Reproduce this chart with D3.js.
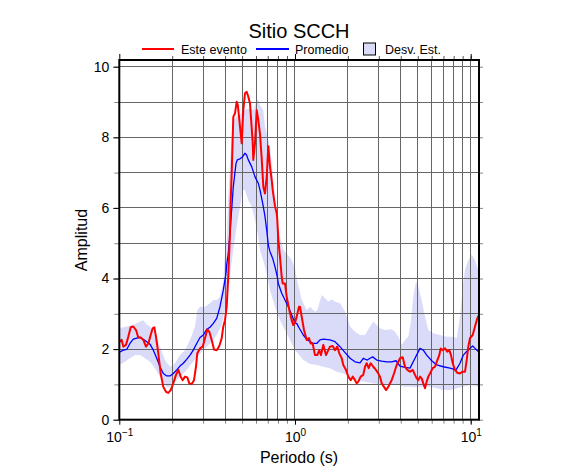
<!DOCTYPE html>
<html><head><meta charset="utf-8">
<script src="https://cdn.jsdelivr.net/npm/d3@7"></script>
<style>html,body{margin:0;padding:0;background:#fff}svg{display:block;font-family:"Liberation Sans",Arial,Helvetica,sans-serif}</style>
</head><body>
<script>
// ---- data ----
const title = "Sitio SCCH";
const seriesNames = ["Este evento", "Promedio", "Desv. Est."];
const xMajorTicks = [0.1, 1, 10];
const xMajorExp = ["\u22121", "0", "1"];
const xGridTicks = [0.2,0.3,0.4,0.5,0.6,0.7,0.8,0.9,1,2,3,4,5,6,7,8,9,10];
const yTicks = [0,1,2,3,4,5,6,7,8,9,10];
const yLabelTicks = [0,2,4,6,8,10];

const redPeriod = [0.1,0.1032,0.1054,0.1092,0.1125,0.1161,0.1201,0.1245,0.1283,0.1324,0.137,0.1419,0.1463,0.1509,0.1549,0.1582,0.1618,0.1667,0.172,0.178,0.1844,0.1901,0.1961,0.2029,0.2102,0.2167,0.2236,0.2295,0.2366,0.2438,0.2503,0.2583,0.2662,0.2732,0.2779,0.288,0.2984,0.3075,0.3169,0.3253,0.3357,0.3459,0.3584,0.3709,0.3827,0.3908,0.3996,0.4086,0.4173,0.4267,0.4305,0.4363,0.4455,0.4555,0.4658,0.473,0.4864,0.4973,0.5079,0.5193,0.531,0.5423,0.5545,0.5745,0.579,0.592,0.6053,0.6182,0.6321,0.6464,0.6601,0.6751,0.6903,0.7047,0.7206,0.7369,0.7466,0.7695,0.7867,0.793,0.8034,0.8213,0.84,0.8511,0.8771,0.897,0.9281,0.9576,0.9779,1.0,1.0226,1.054,1.0678,1.0917,1.1252,1.1658,1.2015,1.2286,1.2609,1.2995,1.3394,1.3749,1.406,1.449,1.5013,1.5471,1.5821,1.6392,1.6894,1.7412,1.7872,1.8444,1.8834,1.9514,2.0111,2.0749,2.13,2.1953,2.2449,2.293,2.3652,2.4472,2.5025,2.559,2.6271,2.697,2.7898,2.8907,2.9792,3.0465,3.1153,3.2106,3.2955,3.3963,3.4729,3.5514,3.6602,3.7918,3.872,3.9594,4.1023,4.2281,4.3575,4.514,4.677,4.8195,4.9283,5.0326,5.1462,5.2614,5.3728,5.4941,5.6182,5.7372,5.8668,6.0774,6.2637,6.4051,6.6274,6.7506,6.9288,7.1412,7.356,7.555,7.7256,7.8983,8.1404,8.3898,8.6925,9.006,9.2823,9.4893,9.6904,9.9083,10.266,10.58,10.904,11.148];
const redAmp = [2.21,2.26,2.07,2.12,2.35,2.62,2.64,2.54,2.33,2.33,2.26,2.07,2.16,2.4,2.59,2.62,2.35,1.88,1.31,0.93,0.79,0.76,0.84,1.03,1.27,1.41,1.22,1.12,1.22,1.2,1.03,1.01,1.12,1.5,1.88,2.02,2.07,2.31,2.56,2.49,2.26,1.99,1.97,2.09,2.31,2.64,2.82,3.2,4.1,5.3,6.2,7.0,8.58,8.68,9.01,8.9,8.3,7.83,8.77,9.25,9.29,9.15,8.96,7.85,7.36,7.83,8.77,8.49,8.1,7.4,6.6,6.41,6.88,7.75,7.17,6.79,6.51,6.05,5.85,5.66,5.1,4.62,4.05,3.86,3.86,3.48,3.11,2.82,2.68,2.75,2.92,3.2,3.2,2.92,2.54,2.26,2.31,2.16,2.16,1.83,1.83,1.97,1.83,2.12,1.83,1.97,2.07,2.09,1.97,2.07,1.88,1.74,1.55,1.41,1.22,1.12,1.22,1.12,1.03,1.08,1.22,1.27,1.5,1.6,1.46,1.6,1.5,1.41,1.31,1.22,1.03,0.93,0.84,0.93,1.03,1.12,1.31,1.55,1.64,1.74,1.77,1.5,1.41,1.36,1.41,1.27,1.17,1.12,1.22,1.17,1.03,0.89,1.08,1.22,1.31,1.46,1.5,1.64,1.83,2.02,1.97,2.02,1.93,1.97,1.83,1.6,1.41,1.33,1.31,1.36,1.36,1.69,2.07,2.31,2.4,2.64,2.87,2.97];

const bluePeriod = [0.1,0.1054,0.1102,0.115,0.1201,0.1256,0.1312,0.137,0.1432,0.1495,0.1562,0.1633,0.1705,0.178,0.1861,0.1944,0.2029,0.2122,0.2215,0.2313,0.2418,0.2526,0.2638,0.2758,0.288,0.3007,0.3144,0.3283,0.3428,0.3584,0.3742,0.3908,0.4049,0.4086,0.4173,0.4267,0.4455,0.4616,0.4695,0.4864,0.5039,0.5193,0.53,0.5423,0.567,0.592,0.6182,0.6321,0.655,0.6751,0.6903,0.7047,0.7206,0.7466,0.7695,0.793,0.8034,0.84,0.8771,0.9159,0.9576,1.0,1.0226,1.0581,1.1149,1.1658,1.2172,1.2711,1.3289,1.3878,1.449,1.5821,1.6894,1.8036,1.9286,2.0587,2.1953,2.3443,2.4472,2.5791,2.6722,2.768,2.9174,3.1153,3.3262,3.5514,3.7568,3.9594,4.2281,4.514,4.8195,5.1462,5.3728,5.6182,5.9979,6.4051,6.9847,7.6253,8.2489,8.6925,9.0768,9.4893,9.9083,10.266,10.58,11.045,11.148];
const blueAmp = [1.91,1.97,1.99,2.16,2.28,2.31,2.33,2.28,2.21,2.14,1.97,1.74,1.5,1.31,1.24,1.24,1.31,1.41,1.52,1.6,1.71,1.83,1.97,2.16,2.33,2.4,2.56,2.62,2.73,2.87,3.2,3.67,4.15,4.4,4.71,5.3,6.6,7.26,7.36,7.39,7.45,7.55,7.5,7.36,7.17,6.88,6.7,6.51,6.13,5.75,5.37,4.95,4.76,4.57,4.33,4.05,3.86,3.58,3.39,3.2,2.97,2.73,2.73,2.59,2.4,2.28,2.21,2.16,2.16,2.26,2.28,2.26,2.21,2.07,1.9,1.74,1.64,1.61,1.74,1.69,1.74,1.78,1.69,1.66,1.64,1.64,1.67,1.52,1.48,1.46,1.74,2.02,1.97,1.83,1.67,1.55,1.5,1.46,1.41,1.6,1.83,1.93,2.02,2.09,2.02,1.93,1.91];

const upperPeriod = [0.1,0.1102,0.1201,0.1312,0.137,0.1432,0.1495,0.1597,0.1705,0.182,0.1944,0.2075,0.2215,0.2366,0.2526,0.2697,0.2779,0.288,0.3075,0.3283,0.3428,0.3584,0.3742,0.3908,0.3996,0.4086,0.4173,0.4267,0.4363,0.4455,0.47,0.5,0.53,0.5545,0.579,0.6053,0.6182,0.6321,0.6601,0.6751,0.7206,0.7525,0.7867,0.8213,0.8578,0.897,0.9576,1.0,1.0226,1.0678,1.0917,1.1658,1.2172,1.2995,1.338,1.4191,1.4835,1.5471,1.6178,1.6894,1.8036,1.9286,2.0587,2.1953,2.3443,2.5025,2.6722,2.7898,2.9174,3.0465,3.2527,3.5514,3.7078,3.872,4.0488,4.2281,4.4151,4.5558,4.7131,4.8832,5.0326,5.2614,5.4941,5.7372,6.1247,6.6884,7.3023,7.9616,8.3252,8.6925,9.006,9.2823,9.6904,10.132,10.58,11.045,11.148];
const upperAmp = [2.59,2.64,2.68,2.78,2.82,2.7,2.64,2.45,2.07,1.69,1.5,1.6,1.83,1.97,2.26,2.64,3.11,3.2,3.2,3.3,3.39,3.39,3.48,3.9,4.75,5.1,6.3,7.26,8.02,8.49,8.6,8.7,8.8,8.8,8.77,9.06,9.06,8.9,8.77,8.3,7.73,6.79,5.85,5.18,4.81,4.71,4.52,4.3,4.0,3.6,3.39,3.11,3.2,3.06,3.1,3.53,3.44,3.34,3.41,3.34,3.3,3.06,2.64,2.49,2.4,2.4,2.64,2.78,2.68,2.59,2.54,2.56,2.49,2.35,2.12,2.26,2.35,2.73,3.48,3.91,3.77,3.39,2.92,2.54,2.45,2.4,2.35,2.35,2.31,2.92,3.77,4.24,4.52,4.67,4.52,4.24,4.15];

const lowerPeriod = [0.1,0.1078,0.115,0.1228,0.1312,0.14,0.1495,0.1597,0.1705,0.178,0.1861,0.1944,0.2029,0.2122,0.2265,0.2418,0.2583,0.2758,0.2944,0.3144,0.3357,0.3584,0.3827,0.3996,0.4173,0.4305,0.4455,0.4658,0.4864,0.5039,0.5193,0.5423,0.567,0.592,0.6182,0.6321,0.6601,0.6903,0.7206,0.7695,0.8213,0.8771,0.9367,1.0,1.0581,1.1149,1.2172,1.3289,1.449,1.5821,1.7272,1.8834,2.0587,2.2449,2.4472,2.6722,2.9174,3.1153,3.4729,3.872,4.1345,4.514,4.9283,5.3728,5.8668,6.4051,6.9847,7.6253,8.3252,9.0768,9.9083,10.817,11.148];
const lowerAmp = [1.55,1.64,1.74,1.83,1.83,1.74,1.64,1.46,1.22,1.03,0.93,0.93,1.03,1.12,1.27,1.41,1.6,1.74,1.93,2.07,2.21,2.4,2.68,3.11,3.67,4.24,4.81,5.47,6.03,6.51,6.51,6.22,6.03,5.66,5.18,4.81,4.5,4.15,3.67,3.2,2.82,2.54,2.26,1.97,1.83,1.69,1.58,1.55,1.5,1.46,1.36,1.31,1.22,1.12,1.08,1.05,1.01,1.01,0.98,0.98,0.93,0.93,0.92,0.93,0.93,0.89,0.84,0.84,0.89,0.93,0.98,0.95,0.95];

// ---- chart ----
const W = 586, H = 475;
const FONT = '"Liberation Sans", Arial, Helvetica, sans-serif';
const svg = d3.select("body").append("svg").attr("width", W).attr("height", H);

const x = d3.scaleLog().domain([0.1, 11.15]).range([119.3, 479]);
const y = d3.scaleLinear().domain([0, 10.19]).range([419.7, 60]);

const red = redPeriod.map((p, i) => [p, redAmp[i]]);
const blue = bluePeriod.map((p, i) => [p, blueAmp[i]]);
const upper = upperPeriod.map((p, i) => [p, upperAmp[i]]);
const lower = lowerPeriod.map((p, i) => [p, lowerAmp[i]]);

svg.append("clipPath").attr("id", "plotclip").append("rect")
  .attr("x", x(0.1)).attr("y", y(10.19)).attr("width", x(11.15) - x(0.1)).attr("height", y(0) - y(10.19));

const bandPts = upper.concat(lower.slice().reverse());
const plot = svg.append("g").attr("clip-path", "url(#plotclip)");
plot.append("path")
  .attr("d", d3.line().x(d => x(d[0])).y(d => y(d[1]))(bandPts) + "Z")
  .attr("fill", "#dadaf9").attr("stroke", "none");

// grid
plot.append("g").selectAll("line").data(xGridTicks).join("line")
  .attr("x1", d => x(d)).attr("x2", d => x(d)).attr("y1", y(0)).attr("y2", y(10.19))
  .attr("stroke", "#666").attr("stroke-width", 1).attr("shape-rendering", "crispEdges");
plot.append("g").selectAll("line").data(yTicks.slice(1)).join("line")
  .attr("x1", x(0.1)).attr("x2", x(11.15)).attr("y1", d => y(d)).attr("y2", d => y(d))
  .attr("stroke", "#666").attr("stroke-width", 1).attr("shape-rendering", "crispEdges");

const line = d3.line().x(d => x(d[0])).y(d => y(d[1]));
plot.append("path").attr("d", line(blue)).attr("fill", "none").attr("stroke", "#0000ff").attr("stroke-width", 1.3).attr("stroke-linejoin", "round");
plot.append("path").attr("d", line(red)).attr("fill", "none").attr("stroke", "#ff0000").attr("stroke-width", 2).attr("stroke-linejoin", "round");

function styleAxis(g) {
  g.select(".domain").remove();
  g.selectAll("line").attr("stroke", "#000");
  g.selectAll("text").attr("font-family", FONT).attr("font-size", 14).attr("fill", "#000");
}
svg.append("g").attr("transform", `translate(0,${y(10.19)})`)
  .call(d3.axisTop(x).tickValues(xGridTicks).tickSize(4).tickFormat(""))
  .call(g => { g.select(".domain").remove(); g.selectAll("line").attr("stroke", "#555"); });
svg.append("g").attr("transform", `translate(0,${y(0)})`)
  .call(d3.axisBottom(x).tickValues(xGridTicks).tickSize(4).tickFormat(""))
  .call(g => { g.select(".domain").remove(); g.selectAll("line").attr("stroke", "#888"); });
svg.append("g").attr("transform", `translate(${x(11.15)},0)`)
  .call(d3.axisRight(y).tickValues(yTicks).tickSize(4).tickFormat(""))
  .call(g => { g.select(".domain").remove(); g.selectAll("line").attr("stroke", "#888"); });
svg.append("g").attr("transform", `translate(${x(0.1)},0)`)
  .call(d3.axisLeft(y).tickValues(yTicks).tickSize(5).tickFormat(""))
  .call(g => { g.select(".domain").remove(); g.selectAll("line").attr("stroke", "#888"); });

svg.append("g").attr("transform", `translate(${x(0.1)},0)`)
  .call(d3.axisLeft(y).tickValues(yLabelTicks).tickSize(6).tickPadding(4).tickFormat(d3.format("d")))
  .call(styleAxis);
svg.append("g").attr("transform", `translate(0,${y(10.19)})`)
  .call(d3.axisTop(x).tickValues(xMajorTicks).tickSize(6).tickFormat(""))
  .call(styleAxis);
const xb = svg.append("g").attr("transform", `translate(0,${y(0)})`)
  .call(d3.axisBottom(x).tickValues(xMajorTicks).tickSize(5).tickFormat(""))
  .call(styleAxis);
xb.selectAll(".tick").each(function(d, i) {
  const t = d3.select(this).append("text").attr("y", 22).attr("text-anchor", "middle")
    .attr("font-family", FONT).attr("font-size", 14).attr("fill", "#000");
  t.append("tspan").text("10");
  t.append("tspan").attr("dy", -6).attr("font-size", 10).text(xMajorExp[i]);
});

svg.append("rect").attr("x", x(0.1)).attr("y", y(10.19))
  .attr("width", x(11.15) - x(0.1)).attr("height", y(0) - y(10.19))
  .attr("fill", "none").attr("stroke", "#000").attr("stroke-width", 2);

svg.append("text").attr("x", 299).attr("y", 38).attr("text-anchor", "middle")
  .attr("font-family", FONT).attr("font-size", 20).text(title);
svg.append("text").attr("x", 299).attr("y", 463).attr("text-anchor", "middle")
  .attr("font-family", FONT).attr("font-size", 16).text("Periodo (s)");
svg.append("text").attr("transform", "translate(87,240) rotate(-90)").attr("text-anchor", "middle")
  .attr("font-family", FONT).attr("font-size", 16).text("Amplitud");

const lg = svg.append("g").attr("font-family", FONT).attr("font-size", 12.5);
lg.append("line").attr("x1", 142).attr("x2", 174).attr("y1", 49).attr("y2", 49).attr("stroke", "#ff0000").attr("stroke-width", 2);
lg.append("text").attr("x", 181).attr("y", 54).text(seriesNames[0]);
lg.append("line").attr("x1", 256).attr("x2", 289).attr("y1", 49).attr("y2", 49).attr("stroke", "#0000ff").attr("stroke-width", 2);
lg.append("text").attr("x", 295).attr("y", 54).text(seriesNames[1]);
lg.append("rect").attr("x", 363.5).attr("y", 43).attr("width", 12).attr("height", 12).attr("fill", "#dadaf9").attr("stroke", "#000").attr("stroke-width", 1);
lg.append("text").attr("x", 385).attr("y", 54).text(seriesNames[2]);
</script>
</body></html>
